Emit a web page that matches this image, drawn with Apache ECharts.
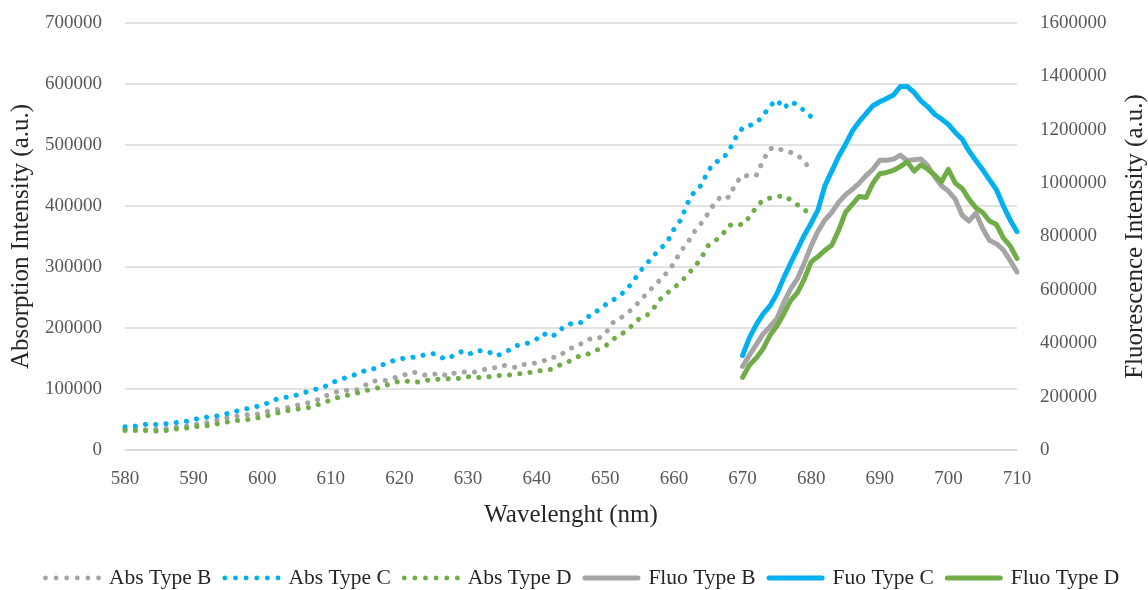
<!DOCTYPE html>
<html><head><meta charset="utf-8">
<script src="https://cdn.jsdelivr.net/npm/echarts/dist/echarts.min.js"></script>
<style>html,body{margin:0;padding:0;background:#fff}#c{width:1148px;height:590px}</style>
</head><body><div id="c"></div>
<script>
const absWavelength = [580,581,582,583,584,585,586,587,588,589,590,591,592,593,594,595,596,597,598,599,600,601,602,603,604,605,606,607,608,609,610,611,612,613,614,615,616,617,618,619,620,621,622,623,624,625,626,627,628,629,630,631,632,633,634,635,636,637,638,639,640,641,642,643,644,645,646,647,648,649,650,651,652,653,654,655,656,657,658,659,660,661,662,663,664,665,666,667,668,669,670,671,672,673,674,675,676,677,678,679,680];
const fluoWavelength = [670,671,672,673,674,675,676,677,678,679,680,681,682,683,684,685,686,687,688,689,690,691,692,693,694,695,696,697,698,699,700,701,702,703,704,705,706,707,708,709,710];

const absTypeB = [34000,34000,34000,33000,33000,34000,35000,37000,38000,39000,
41000,43000,45000,48000,50000,53000,55000,57000,58000,58000,
61000,64000,66000,68000,70000,73000,76000,78000,82000,88000,
92000,96000,98000,98000,99000,106000,113000,113000,114000,117000,
121000,124000,128000,125000,122000,124000,126000,121000,126000,128000,
128000,128000,131000,134000,135000,139000,138000,135000,140000,141000,
143000,146000,152000,152000,160000,167000,170000,179000,183000,183000,
190000,208000,215000,222000,232000,244000,256000,268000,279000,291000,
306000,326000,340000,358000,372000,388000,406000,417000,414000,437000,
450000,449000,450000,475000,494000,496000,490000,488000,484000,472000,460000];

const absTypeC = [38000,38000,40000,42000,42000,42000,43000,44000,46000,47000,
50000,52000,54000,55000,57000,60000,63000,66000,68000,71000,
73000,78000,83000,86000,87000,90000,93000,98000,100000,103000,
110000,114000,118000,121000,126000,130000,132000,137000,142000,146000,
149000,151000,152000,154000,157000,158000,152000,149000,156000,161000,
156000,162000,163000,161000,154000,158000,164000,171000,173000,176000,
182000,191000,185000,191000,203000,207000,207000,212000,224000,229000,
238000,245000,252000,262000,275000,292000,305000,318000,330000,340000,
362000,377000,405000,424000,434000,458000,472000,476000,490000,512000,
528000,532000,536000,548000,564000,574000,560000,571000,566000,556000,546000];

const absTypeD = [32000,32000,32000,32000,31000,31000,32000,34000,35000,36000,
38000,39000,40000,42000,44000,46000,48000,49000,50000,52000,
54000,57000,60000,63000,65000,67000,68000,70000,74000,78000,
82000,86000,89000,91000,94000,97000,100000,102000,106000,109000,
113000,113000,111000,112000,114000,116000,116000,117000,116000,118000,
120000,119000,119000,120000,122000,122000,123000,124000,126000,127000,
129000,131000,132000,138000,141000,147000,153000,155000,160000,165000,
170000,181000,187000,195000,205000,216000,220000,232000,247000,257000,
266000,275000,288000,300000,315000,335000,343000,352000,368000,371000,
369000,382000,398000,410000,413000,415000,417000,410000,402000,395000,382000];

const fluoTypeB = [313000,355000,395000,435000,462000,492000,552000,603000,642000,700000,
765000,820000,862000,890000,928000,956000,977000,1000000,1028000,1052000,
1086000,1086000,1090000,1105000,1084000,1088000,1090000,1065000,1024000,990000,
970000,940000,880000,858000,888000,830000,785000,773000,750000,710000,667000];

const fluoTypeC = [354000,420000,470000,510000,540000,585000,645000,700000,752000,805000,
850000,900000,990000,1045000,1100000,1145000,1195000,1230000,1260000,1290000,
1305000,1317000,1330000,1362000,1362000,1340000,1308000,1286000,1258000,1240000,
1220000,1190000,1165000,1120000,1085000,1050000,1012000,975000,915000,862000,818000];

const fluoTypeD = [272000,318000,345000,379000,430000,465000,510000,560000,590000,640000,
705000,725000,748000,767000,823000,890000,920000,950000,946000,1000000,
1035000,1040000,1048000,1062000,1080000,1045000,1068000,1052000,1030000,1005000,
1052000,1000000,980000,940000,908000,890000,858000,845000,795000,765000,717000];

const seriesNames = ['Abs Type B','Abs Type C','Abs Type D','Fluo Type B','Fuo Type C','Fluo Type D'];

const GRAY = '#a5a5a5', BLUE = '#00b0f0', GREEN = '#70ad47';
const FONT = 'Liberation Serif';

// legend icon shapes
let dotPath = 'path://';
for (let k = 0; k < 6; k++) {
  const cx = 2.4 + k * 10.4;
  dotPath += 'M' + (cx - 2.4) + ',2.4 A2.4,2.4 0 1,0 ' + (cx + 2.4) + ',2.4 A2.4,2.4 0 1,0 ' + (cx - 2.4) + ',2.4 Z ';
}
const barPath = 'path://M2.5,0 L55.5,0 A2.5,2.5 0 0,1 55.5,5 L2.5,5 A2.5,2.5 0 0,1 2.5,0 Z';

function pairs(xs, ys){ return xs.map((x,i)=>[x, ys[i]]); }
function dotted(name, xs, ys, color){
  return {name, type:'line', yAxisIndex:0, data:pairs(xs,ys), symbol:'none', smooth:false,
    lineStyle:{color, width:5, type:[0.1,10.2], cap:'round'}, itemStyle:{color}, z:2};
}
function solid(name, xs, ys, color){
  return {name, type:'line', yAxisIndex:1, data:pairs(xs,ys), symbol:'none', smooth:false,
    lineStyle:{color, width:5, cap:'round', join:'round'}, itemStyle:{color}, z:3};
}

const chart = echarts.init(document.getElementById('c'));
chart.setOption({
  animation:false,
  backgroundColor:'#fff',
  grid:{left:125, right:131, top:23, bottom:140, containLabel:false, outerBoundsMode:'none'},
  legend:{
    data:seriesNames.map((n,i)=>({name:n, icon: i < 3 ? dotPath : barPath})),
    bottom:-4, left:38, itemWidth:58, itemHeight:5, itemGap:11,
    itemStyle:{borderWidth:0}, lineStyle:{width:0},
    textStyle:{fontFamily:FONT, fontSize:21.5, color:'#262626', padding:[0,0,0,3]}
  },
  xAxis:{
    type:'value', min:580, max:710, interval:10,
    name:'Wavelenght (nm)', nameLocation:'middle', nameGap:53,
    nameTextStyle:{fontFamily:FONT, fontSize:25, color:'#262626'},
    axisLine:{show:true, lineStyle:{color:'#d9d9d9', width:1.5}},
    axisTick:{show:false},
    axisLabel:{fontFamily:FONT, fontSize:19, color:'#595959', margin:20},
    splitLine:{show:false}
  },
  yAxis:[{
    type:'value', min:0, max:700000, interval:100000, position:'left',
    name:'Absorption Intensity (a.u.)', nameLocation:'middle', nameGap:88, nameRotate:90,
    nameTextStyle:{fontFamily:FONT, fontSize:25, color:'#262626'},
    axisLine:{show:false}, axisTick:{show:false},
    axisLabel:{fontFamily:FONT, fontSize:19, color:'#595959', margin:23, formatter:v=>String(v)},
    splitLine:{show:true, lineStyle:{color:'#d9d9d9', width:1.5}}
  },{
    type:'value', min:0, max:1600000, interval:200000, position:'right',
    name:'Fluorescence Intensity (a.u.)', nameLocation:'middle', nameGap:106, nameRotate:90,
    nameTextStyle:{fontFamily:FONT, fontSize:25, color:'#262626'},
    axisLine:{show:false}, axisTick:{show:false},
    axisLabel:{fontFamily:FONT, fontSize:19, color:'#595959', margin:23, formatter:v=>String(v)},
    splitLine:{show:false}
  }],
  series:[
    dotted(seriesNames[0], absWavelength, absTypeB, GRAY),
    dotted(seriesNames[1], absWavelength, absTypeC, BLUE),
    dotted(seriesNames[2], absWavelength, absTypeD, GREEN),
    solid(seriesNames[3], fluoWavelength, fluoTypeB, GRAY),
    solid(seriesNames[4], fluoWavelength, fluoTypeC, BLUE),
    solid(seriesNames[5], fluoWavelength, fluoTypeD, GREEN)
  ]
});
</script></body></html>
